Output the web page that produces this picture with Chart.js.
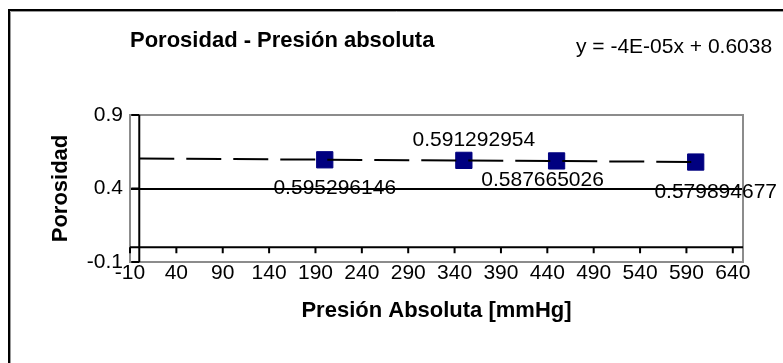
<!DOCTYPE html>
<html>
<head>
<meta charset="utf-8">
<script src="https://cdn.jsdelivr.net/npm/chart.js@4.4.1/dist/chart.umd.min.js"></script>
<style>
  html, body { margin: 0; padding: 0; background: #fff; }
  canvas { display: block; }
</style>
</head>
<body>
<canvas id="grafico" width="783" height="363"></canvas>
<script>
// datos
const presion = [200, 350, 450, 600];
const porosidad = [0.595296146, 0.591292954, 0.587665026, 0.579894677];
const tendenciaX = [0, 600];
const tendenciaY = [0.6039, 0.5809];
const ticksX = [-10, 40, 90, 140, 190, 240, 290, 340, 390, 440, 490, 540, 590, 640];
const ticksY = [-0.1, 0.4, 0.9];

const titulo = 'Porosidad - Presión absoluta';
const ecuacion = 'y = -4E-05x + 0.6038';

const fuente = "'Liberation Sans', Arial, sans-serif";
Chart.defaults.font.family = fuente;
Chart.defaults.color = '#000';

// posicion de cada rotulo respecto a su punto (px)
const desplazamientos = [[10, 28], [10, -20], [-14, 19], [20, 30]];

const marco = {
  id: 'marco',
  beforeDraw(chart) {
    const ctx = chart.ctx;
    ctx.save();
    ctx.strokeStyle = '#000';
    ctx.lineWidth = 2;
    ctx.beginPath();
    ctx.moveTo(9, chart.height);
    ctx.lineTo(9, 10);
    ctx.lineTo(chart.width, 10);
    ctx.stroke();
    ctx.strokeStyle = '#999';
    ctx.lineWidth = 1;
    ctx.beginPath();
    ctx.moveTo(10.5, chart.height);
    ctx.lineTo(10.5, 11.5);
    ctx.lineTo(chart.width, 11.5);
    ctx.stroke();
    ctx.restore();
  }
};

const ejes = {
  id: 'ejes',
  beforeDatasetsDraw(chart) {
    const {ctx, chartArea: a, scales: {x, y}} = chart;
    const x0 = x.getPixelForValue(0);
    const y0 = y.getPixelForValue(0);
    ctx.save();
    ctx.strokeStyle = '#8c8c8c';
    ctx.lineWidth = 2;
    ctx.strokeRect(a.left, a.top, a.right - a.left, a.bottom - a.top);

    ctx.strokeStyle = '#000';
    ctx.beginPath();
    ctx.moveTo(a.left, y0);
    ctx.lineTo(a.right, y0);
    ctx.moveTo(x0, a.top);
    ctx.lineTo(x0, a.bottom);
    x.ticks.forEach(t => {
      const px = x.getPixelForValue(t.value);
      ctx.moveTo(px, y0);
      ctx.lineTo(px, y0 + 6);
    });
    y.ticks.forEach(t => {
      const py = y.getPixelForValue(t.value);
      ctx.moveTo(x0 - 8, py);
      ctx.lineTo(x0, py);
    });
    ctx.stroke();
    ctx.restore();
  }
};

const rotulos = {
  id: 'rotulos',
  afterDraw(chart) {
    const {ctx, chartArea: a} = chart;
    const meta = chart.getDatasetMeta(1);
    ctx.save();
    ctx.fillStyle = '#000';
    ctx.font = '21px ' + fuente;
    ctx.textAlign = 'center';
    ctx.textBaseline = 'middle';
    meta.data.forEach((p, i) => {
      const d = desplazamientos[i];
      ctx.fillText(String(porosidad[i]), p.x + d[0], p.y + d[1]);
    });

    ctx.textAlign = 'left';
    ctx.textBaseline = 'alphabetic';
    ctx.font = 'bold 22px ' + fuente;
    ctx.fillText(titulo, a.left, a.top - 68);
    ctx.font = '21px ' + fuente;
    ctx.fillText(ecuacion, 576, a.top - 62);
    ctx.restore();
  }
};

new Chart(document.getElementById('grafico'), {
  type: 'scatter',
  data: {
    datasets: [
      {
        label: 'Tendencia',
        data: tendenciaX.map((v, i) => ({x: v, y: tendenciaY[i]})),
        showLine: true,
        borderColor: '#000',
        borderWidth: 2,
        borderDash: [35, 12],
        pointRadius: 0,
        order: 0
      },
      {
        label: 'Porosidad',
        data: presion.map((v, i) => ({x: v, y: porosidad[i]})),
        pointStyle: 'rect',
        pointRadius: 11.5,
        pointBackgroundColor: '#000080',
        pointBorderColor: '#000080',
        pointBorderWidth: 1,
        order: 1
      }
    ]
  },
  options: {
    responsive: false,
    animation: false,
    layout: { padding: { left: 0, top: 115, right: 40, bottom: 39 } },
    plugins: {
      legend: { display: false },
      tooltip: { enabled: false },
      title: { display: false }
    },
    scales: {
      x: {
        type: 'linear',
        min: -10,
        max: 651,
        afterBuildTicks: s => { s.ticks = ticksX.map(v => ({value: v})); },
        afterFit: s => { s.height = 62; },
        ticks: {
          font: { size: 21, lineHeight: 1.1 },
          color: '#000',
          padding: 0,
          autoSkip: false,
          maxRotation: 0
        },
        grid: { display: false, drawTicks: false },
        border: { display: false },
        title: {
          display: true,
          text: 'Presión Absoluta [mmHg]',
          font: { size: 22, weight: 'bold', lineHeight: 1.2 },
          color: '#000',
          padding: 0
        }
      },
      y: {
        min: -0.1,
        max: 0.9,
        afterBuildTicks: s => { s.ticks = ticksY.map(v => ({value: v})); },
        afterFit: s => { s.width = 130; },
        ticks: {
          font: { size: 21, lineHeight: 1.1 },
          color: '#000',
          padding: 7
        },
        grid: {
          drawTicks: false,
          lineWidth: 2,
          color: c => (c.tick && Math.abs(c.tick.value - 0.4) < 1e-9) ? '#000' : 'rgba(0,0,0,0)'
        },
        border: { display: false },
        title: {
          display: true,
          text: 'Porosidad',
          font: { size: 22, weight: 'bold', lineHeight: 1.2 },
          color: '#000',
          padding: { top: 48, bottom: 0 }
        }
      }
    }
  },
  plugins: [marco, ejes, rotulos]
});
</script>
</body>
</html>
